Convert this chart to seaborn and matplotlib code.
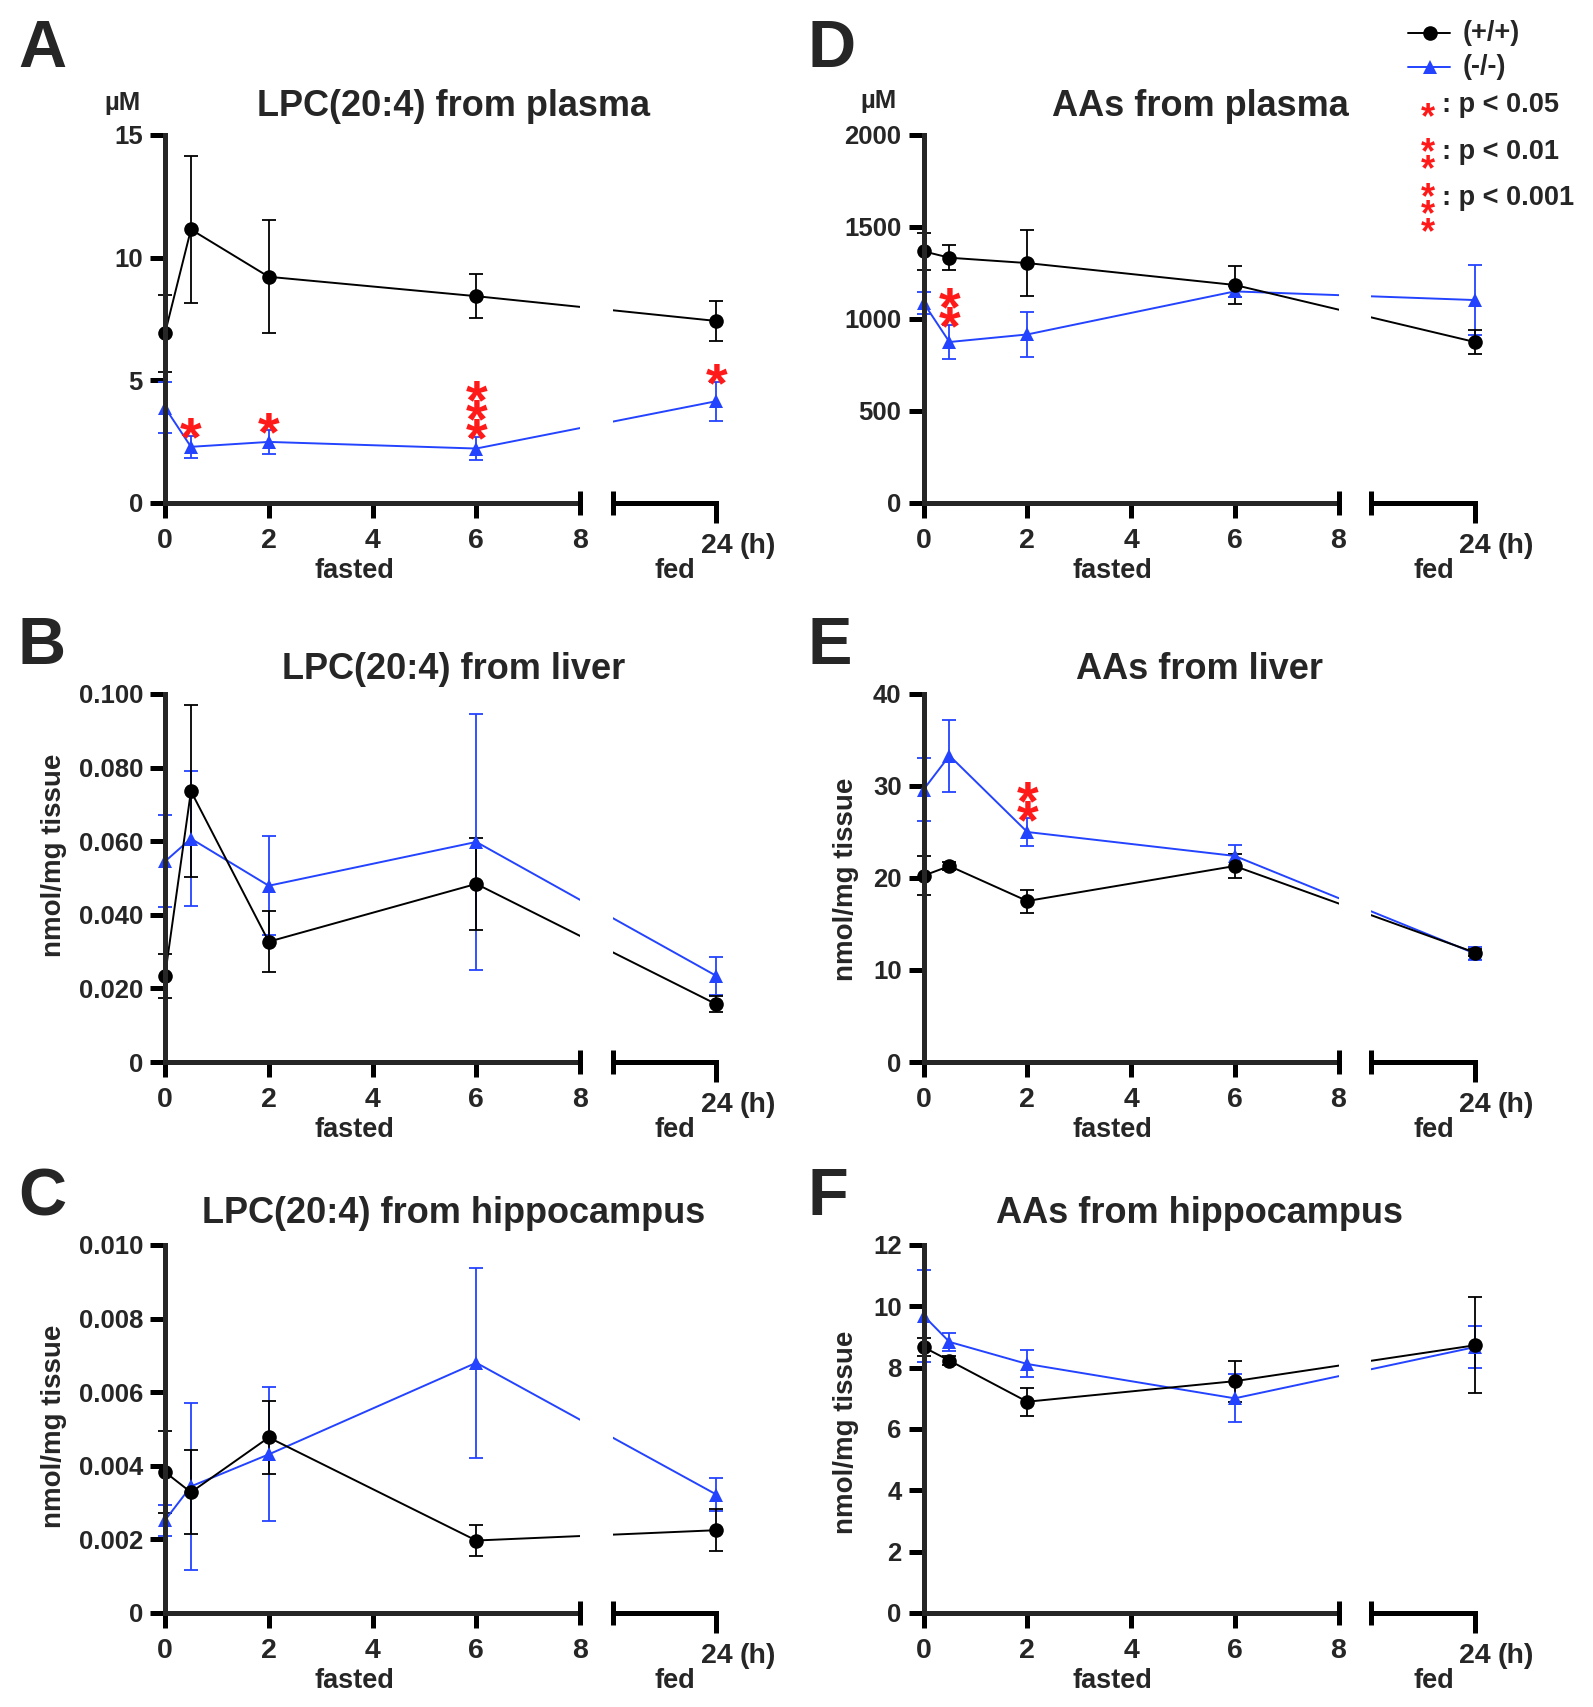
import numpy as np
import pandas as pd
import matplotlib
matplotlib.use("Agg")
import matplotlib.pyplot as plt
from matplotlib.lines import Line2D
import seaborn as sns

# -------------------------------
# Data (mean +/- SEM), time in hours
# -------------------------------
times = [0, 0.5, 2, 6, 24]

lpc_plasma_wt = [6.92, 11.15, 9.22, 8.43, 7.42]
lpc_plasma_wt_sem = [1.57, 3.0, 2.3, 0.89, 0.82]
lpc_plasma_ko = [3.89, 2.29, 2.49, 2.22, 4.15]
lpc_plasma_ko_sem = [1.03, 0.44, 0.48, 0.47, 0.79]
lpc_plasma_stars = [0, 1, 1, 3, 1]

lpc_liver_wt = [0.0234, 0.0736, 0.0327, 0.0484, 0.0157]
lpc_liver_wt_sem = [0.0060, 0.0233, 0.0083, 0.0124, 0.0022]
lpc_liver_ko = [0.0545, 0.0607, 0.0479, 0.0598, 0.0234]
lpc_liver_ko_sem = [0.0125, 0.0183, 0.0134, 0.0348, 0.0051]
lpc_liver_stars = [0, 0, 0, 0, 0]

lpc_hippo_wt = [0.00383, 0.00328, 0.00477, 0.00197, 0.00225]
lpc_hippo_wt_sem = [0.00111, 0.00114, 0.00098, 0.00042, 0.00057]
lpc_hippo_ko = [0.00252, 0.00344, 0.00431, 0.00680, 0.00322]
lpc_hippo_ko_sem = [0.00042, 0.00226, 0.00182, 0.00258, 0.00046]
lpc_hippo_stars = [0, 0, 0, 0, 0]

aa_plasma_wt = [1368, 1333, 1304, 1185, 875]
aa_plasma_wt_sem = [100, 68, 180, 103, 65]
aa_plasma_ko = [1088, 875, 916, 1150, 1103]
aa_plasma_ko_sem = [60, 92, 122, 32, 190]
aa_plasma_stars = [0, 2, 0, 0, 0]

aa_liver_wt = [20.25, 21.3, 17.5, 21.3, 11.9]
aa_liver_wt_sem = [2.1, 0.4, 1.25, 1.3, 0.4]
aa_liver_ko = [29.6, 33.3, 25.0, 22.4, 11.8]
aa_liver_ko_sem = [3.4, 3.9, 1.5, 1.2, 0.7]
aa_liver_stars = [0, 0, 2, 0, 0]

aa_hippo_wt = [8.67, 8.23, 6.89, 7.56, 8.73]
aa_hippo_wt_sem = [0.30, 0.15, 0.45, 0.67, 1.57]
aa_hippo_ko = [9.70, 8.84, 8.12, 7.00, 8.67]
aa_hippo_ko_sem = [1.50, 0.29, 0.44, 0.78, 0.68]
aa_hippo_stars = [0, 0, 0, 0, 0]

genotypes = ["(+/+)", "(-/-)"]

BLACK = "#000000"
BLUE = "#2343FF"
RED = "#FF1A1A"

W, H = 1593, 1707
GAP = 0.628          # width of the axis break (in hour units of the left segment)
PX_PER_H = 51.875


def xpos(t):
    # broken x axis: 0-8 h fasted, then 22-24 h segment after a gap
    return t if t <= 8 else t - 22 + 8 + GAP


def fx(px):
    return px / W


def fy(py):
    return 1 - py / H


sns.set_style("ticks")
plt.rcParams["font.family"] = ["Liberation Sans", "DejaVu Sans"]
plt.rcParams["font.weight"] = "bold"

fig = plt.figure(figsize=(W / 100, H / 100), dpi=100)

ax_w = xpos(24) * PX_PER_H
ax_h = 368
cols = [165, 923.5]
bottoms = [503, 1062, 1613]


def draw_panel(ax, wt, wt_sem, ko, ko_sem, stars, ymax, yticks, ylabels):
    df = pd.DataFrame({
        "time": times * 2,
        "value": wt + ko,
        "sem": wt_sem + ko_sem,
        "genotype": [genotypes[0]] * len(times) + [genotypes[1]] * len(times),
    })
    df["x"] = df["time"].map(xpos)

    # error bars
    for g, col in zip(genotypes[::-1], [BLUE, BLACK]):
        sub = df[df["genotype"] == g]
        eb = ax.errorbar(sub["x"], sub["value"], yerr=sub["sem"], fmt="none",
                         ecolor=col, elinewidth=1.3, capsize=5.2, capthick=1.3,
                         zorder=1.8)
        for a in eb.get_children():
            a.set_clip_on(False)

    sns.lineplot(data=df, x="x", y="value", hue="genotype", style="genotype",
                 hue_order=genotypes[::-1], style_order=genotypes[::-1],
                 palette={genotypes[0]: BLACK, genotypes[1]: BLUE},
                 markers={genotypes[0]: "o", genotypes[1]: "^"}, dashes=False,
                 markersize=10.5, markeredgewidth=0, linewidth=1.4,
                 errorbar=None, legend=False, ax=ax)
    for ln in ax.lines:
        ln.set_clip_on(False)

    ax.set_xlim(0, xpos(24))
    ax.set_ylim(0, ymax)
    ax.set_xlabel("")
    ax.set_ylabel("")

    # white gap through the lines at the axis break
    ax.axvspan(8, 8 + GAP, color="white", lw=0, zorder=3)

    sns.despine(ax=ax)
    for s in ["left", "bottom"]:
        ax.spines[s].set_linewidth(3.6)
        ax.spines[s].set_zorder(5)
    ax.spines["bottom"].set_bounds(0, 8)
    ax.plot([8 + GAP, xpos(24)], [0, 0], color="black", lw=3.6,
            solid_capstyle="projecting", clip_on=False, zorder=6)
    ax.plot([8, 8 + GAP], [0, 0], ls="none", marker="|", ms=16.8, mew=3.6,
            color="black", clip_on=False, zorder=6)

    ax.set_yticks(yticks, ylabels)
    ax.set_xticks([0, 2, 4, 6, 8], ["0", "2", "4", "6", "8"])
    ax.set_xticks([xpos(24)], ["24"], minor=True)
    ax.tick_params(axis="both", which="both", direction="out", width=3.6,
                   color="black", length=11)
    ax.tick_params(axis="x", which="both", labelsize=20.5, pad=7,
                   bottom=True)
    ax.tick_params(axis="x", which="minor", length=14.4)
    ax.tick_params(axis="y", labelsize=18.5, pad=4.8, left=True)
    ax.xaxis.get_major_ticks()[4].tick1line.set_visible(False)

    ax.annotate("(h)", xy=(xpos(24), 0), xytext=(16.5, -(14.4 + 7)),
                textcoords="offset points", ha="left", va="top",
                fontsize=20.5, annotation_clip=False)
    ax.annotate("fasted", xy=(3.65, 0), xytext=(0, -39.6),
                textcoords="offset points", ha="center", va="top",
                fontsize=19.5, annotation_clip=False)
    ax.annotate("fed", xy=(9.83, 0), xytext=(0, -39.6),
                textcoords="offset points", ha="center", va="top",
                fontsize=19.5, annotation_clip=False)

    # significance stars above the (-/-) error bars
    fs = 40
    for t, m, e, n in zip(times, ko, ko_sem, stars):
        for k in range(n):
            ax.annotate("*", xy=(xpos(t), m + e),
                        xytext=(0, (12 + 19 * k) * 0.72 - 0.57 * fs),
                        textcoords="offset points", ha="center", va="baseline",
                        color=RED, fontsize=fs, annotation_clip=False,
                        zorder=7)


panels = [
    ("A", 0, 0, "LPC(20:4) from plasma", lpc_plasma_wt, lpc_plasma_wt_sem,
     lpc_plasma_ko, lpc_plasma_ko_sem, lpc_plasma_stars, 15,
     [0, 5, 10, 15], ["0", "5", "10", "15"]),
    ("B", 0, 1, "LPC(20:4) from liver", lpc_liver_wt, lpc_liver_wt_sem,
     lpc_liver_ko, lpc_liver_ko_sem, lpc_liver_stars, 0.1,
     [0, 0.02, 0.04, 0.06, 0.08, 0.1],
     ["0", "0.020", "0.040", "0.060", "0.080", "0.100"]),
    ("C", 0, 2, "LPC(20:4) from hippocampus", lpc_hippo_wt, lpc_hippo_wt_sem,
     lpc_hippo_ko, lpc_hippo_ko_sem, lpc_hippo_stars, 0.01,
     [0, 0.002, 0.004, 0.006, 0.008, 0.01],
     ["0", "0.002", "0.004", "0.006", "0.008", "0.010"]),
    ("D", 1, 0, "AAs from plasma", aa_plasma_wt, aa_plasma_wt_sem,
     aa_plasma_ko, aa_plasma_ko_sem, aa_plasma_stars, 2000,
     [0, 500, 1000, 1500, 2000], ["0", "500", "1000", "1500", "2000"]),
    ("E", 1, 1, "AAs from liver", aa_liver_wt, aa_liver_wt_sem,
     aa_liver_ko, aa_liver_ko_sem, aa_liver_stars, 40,
     [0, 10, 20, 30, 40], ["0", "10", "20", "30", "40"]),
    ("F", 1, 2, "AAs from hippocampus", aa_hippo_wt, aa_hippo_wt_sem,
     aa_hippo_ko, aa_hippo_ko_sem, aa_hippo_stars, 12,
     [0, 2, 4, 6, 8, 10, 12], ["0", "2", "4", "6", "8", "10", "12"]),
]

letter_x = [18, 808]
letter_base = [67, 664, 1215]
title_x = [454, 1200]
title_base = [116, 679, 1223]

for letter, c, r, title, wt, wts, ko, kos, st, ymax, yt, yl in panels:
    ax = fig.add_axes([fx(cols[c]), fy(bottoms[r]), ax_w / W, ax_h / H])
    draw_panel(ax, wt, wts, ko, kos, st, ymax, yt, yl)
    fig.text(fx(letter_x[c]), fy(letter_base[r]), letter, fontsize=48,
             ha="left", va="baseline")
    fig.text(fx(title_x[c]), fy(title_base[r]), title, fontsize=26,
             ha="center", va="baseline")

# units
fig.text(fx(123), fy(110), "µM", fontsize=18.5, ha="center", va="baseline")
fig.text(fx(878), fy(108), "µM", fontsize=18.5, ha="center", va="baseline")
for xp, yp in [(54, 855), (54, 1426), (846, 879), (846, 1432)]:
    fig.text(fx(xp), fy(yp), "nmol/mg tissue", fontsize=20, rotation=90,
             ha="center", va="center")

# legend
for yp, col, mk, lab in [(33, BLACK, "o", genotypes[0]), (67, BLUE, "^", genotypes[1])]:
    fig.add_artist(Line2D([fx(1408), fx(1430), fx(1450)], [fy(yp)] * 3,
                          transform=fig.transFigure, color=col, lw=1.4,
                          marker=mk, markevery=[1], ms=10.5, mew=0))
    fig.text(fx(1463), fy(yp), lab, fontsize=19.5, ha="left", va="center")


def fig_star(xp, yp, fs=26):
    em_px = fs / 0.72
    fig.text(fx(xp), fy(yp + 0.57 * em_px), "*", color=RED, fontsize=fs,
             ha="center", va="baseline")


fig_star(1428, 108)
fig.text(fx(1442), fy(105), ": p < 0.05", fontsize=19.5, ha="left", va="center")
fig_star(1428, 143)
fig_star(1428, 160)
fig.text(fx(1442), fy(152), ": p < 0.01", fontsize=19.5, ha="left", va="center")
fig_star(1428, 188)
fig_star(1428, 205)
fig_star(1428, 223)
fig.text(fx(1442), fy(198), ": p < 0.001", fontsize=19.5, ha="left", va="center")

fig.savefig("out.png", dpi=100)
